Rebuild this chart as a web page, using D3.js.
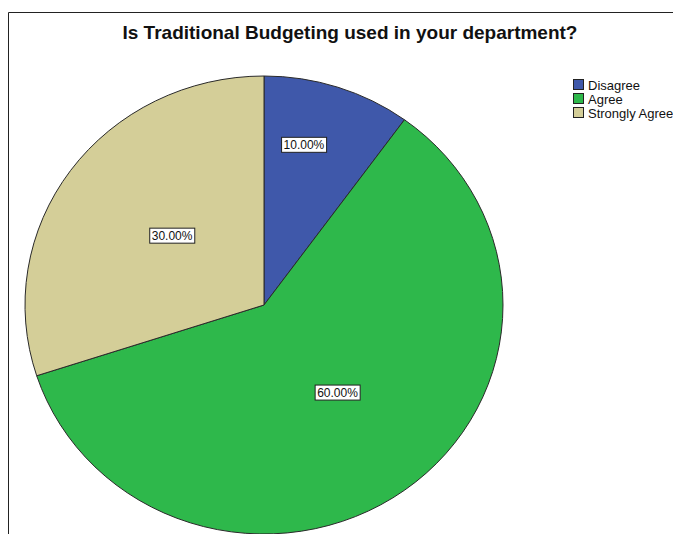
<!DOCTYPE html>
<html>
<head>
<meta charset="utf-8">
<script src="https://cdn.jsdelivr.net/npm/d3@7/dist/d3.min.js"></script>
<style>
  html, body { margin: 0; padding: 0; background: #fff; }
  svg { display: block; }
  text { font-family: "Liberation Sans", Arial, sans-serif; }
</style>
</head>
<body>
<svg id="chart" width="673" height="534"></svg>
<script>
// Survey responses
const categories = ["Disagree", "Agree", "Strongly Agree"];
const percents = [10, 60, 30];
const colors = ["#3f58aa", "#2eb84b", "#d4ce98"];
const title = "Is Traditional Budgeting used in your department?";

const svg = d3.select("#chart");
const W = 673, H = 534;

// chart frame
svg.append("path")
  .attr("d", `M8.5,${H} V12.5 H${W}`)
  .attr("fill", "none")
  .attr("stroke", "#222")
  .attr("stroke-width", 1);

svg.append("text")
  .attr("x", 350)
  .attr("y", 39)
  .attr("text-anchor", "middle")
  .attr("font-size", 19)
  .attr("font-weight", "bold")
  .attr("fill", "#111")
  .text(title);

// pie is drawn slightly wider than tall
const cx = 264, cy = 305, ry = 229, rx = 239;
const g = svg.append("g")
  .attr("transform", `translate(${cx},${cy}) scale(${rx / ry},1)`);

const pie = d3.pie().sort(null).value(d => d.value);
const arcs = pie(categories.map((c, i) => ({ name: c, value: percents[i], color: colors[i] })));
const arc = d3.arc().innerRadius(0).outerRadius(ry);

g.selectAll("path.slice")
  .data(arcs)
  .join("path")
  .attr("class", "slice")
  .attr("d", arc)
  .attr("fill", d => d.data.color)
  .attr("stroke", "#2a2a2a")
  .attr("stroke-width", 1)
  .attr("vector-effect", "non-scaling-stroke");

// percentage labels in white boxes
const fmt = d => d3.format(".2f")(d) + "%";
const labels = svg.append("g").attr("transform", `translate(${cx},${cy})`);
arcs.forEach(d => {
  const share = (d.endAngle - d.startAngle) / (2 * Math.PI);
  const frac = share < 0.15 ? 0.72 : 0.49;
  const shift = share < 0.15 ? -0.08 : share > 0.5 ? -0.05 : 0.04;
  const mid = (d.startAngle + d.endAngle) / 2 + shift;
  const x = Math.sin(mid) * rx * frac;
  const y = -Math.cos(mid) * ry * frac;
  const lg = labels.append("g").attr("transform", `translate(${x},${y})`);
  const t = lg.append("text")
    .attr("text-anchor", "middle")
    .attr("dy", "0.35em")
    .attr("font-size", 12)
    .attr("fill", "#111")
    .text(fmt(d.data.value));
  const bb = t.node().getBBox();
  lg.insert("rect", "text")
    .attr("x", bb.x - 2)
    .attr("y", bb.y - 0.5)
    .attr("width", bb.width + 4)
    .attr("height", bb.height + 1)
    .attr("fill", "#fff")
    .attr("stroke", "#222")
    .attr("stroke-width", 1);
});

// legend
const leg = svg.append("g").attr("transform", "translate(573,79)");
categories.forEach((c, i) => {
  const row = leg.append("g").attr("transform", `translate(0,${i * 14})`);
  row.append("rect")
    .attr("x", 0.5).attr("y", 0.5)
    .attr("width", 10).attr("height", 10)
    .attr("fill", colors[i])
    .attr("stroke", "#222");
  row.append("text")
    .attr("x", 15)
    .attr("y", 10.5)
    .attr("font-size", 13)
    .attr("fill", "#111")
    .text(c);
});
</script>
</body>
</html>
